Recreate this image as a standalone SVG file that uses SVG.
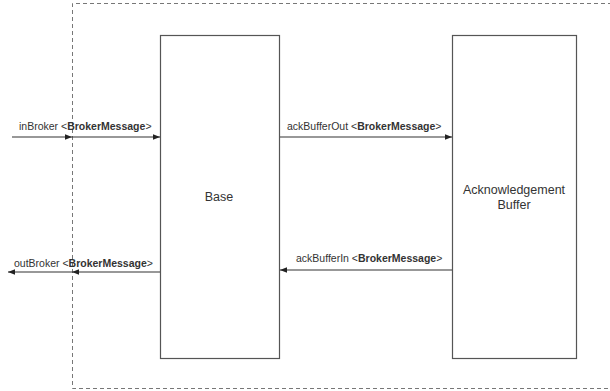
<svg xmlns="http://www.w3.org/2000/svg" width="610" height="391" viewBox="0 0 610 391">
<style>
.box{fill:#fff;stroke:#555;stroke-width:1.2}
.frame{fill:none;stroke:#777;stroke-width:1;stroke-dasharray:4 3}
.edge{stroke:#333;stroke-width:1.2;fill:none}
.lbl{font-family:"Liberation Sans",Arial,sans-serif;font-size:10.5px;fill:#333}
.node{font-family:"Liberation Sans",Arial,sans-serif;font-size:12.5px;fill:#333;text-anchor:middle}
</style>
<defs>
<marker id="ah" viewBox="0 0 10 10" refX="10" refY="5" markerWidth="7" markerHeight="7" orient="auto" markerUnits="userSpaceOnUse">
<path d="M0,1 L10,5 L0,9 Z" fill="#222"/>
</marker>
</defs>
<rect width="610" height="391" fill="#fff"/>
<g id="frame"><path class="frame" d="M612,3.5 H72.5 V388.5 H612"/></g>
<g id="base"><rect class="box" x="160.5" y="35.5" width="119" height="323"/><text class="node" x="219" y="201">Base</text></g>
<g id="ackbuffer"><rect class="box" x="452.5" y="35.5" width="124" height="323"/><text class="node" x="514" y="194">Acknowledgement</text><text class="node" x="514" y="209">Buffer</text></g>
<g id="connectors">
<line class="edge" x1="12" y1="137" x2="72" y2="137" marker-end="url(#ah)"/>
<line class="edge" x1="72" y1="137" x2="160" y2="137" marker-end="url(#ah)"/>
<line class="edge" x1="160" y1="272" x2="72" y2="272" marker-end="url(#ah)"/>
<line class="edge" x1="72" y1="272" x2="8" y2="272" marker-end="url(#ah)"/>
<line class="edge" x1="280" y1="137" x2="452" y2="137" marker-end="url(#ah)"/>
<line class="edge" x1="452" y1="270" x2="280" y2="270" marker-end="url(#ah)"/>
</g>
<g id="labels">
<text class="lbl" x="19" y="130">inBroker &lt;<tspan font-weight="bold">BrokerMessage</tspan>&gt;</text>
<text class="lbl" x="14" y="267">outBroker &lt;<tspan font-weight="bold">BrokerMessage</tspan>&gt;</text>
<text class="lbl" x="287" y="130">ackBufferOut &lt;<tspan font-weight="bold">BrokerMessage</tspan>&gt;</text>
<text class="lbl" x="296" y="262">ackBufferIn &lt;<tspan font-weight="bold">BrokerMessage</tspan>&gt;</text>
</g>
</svg>
